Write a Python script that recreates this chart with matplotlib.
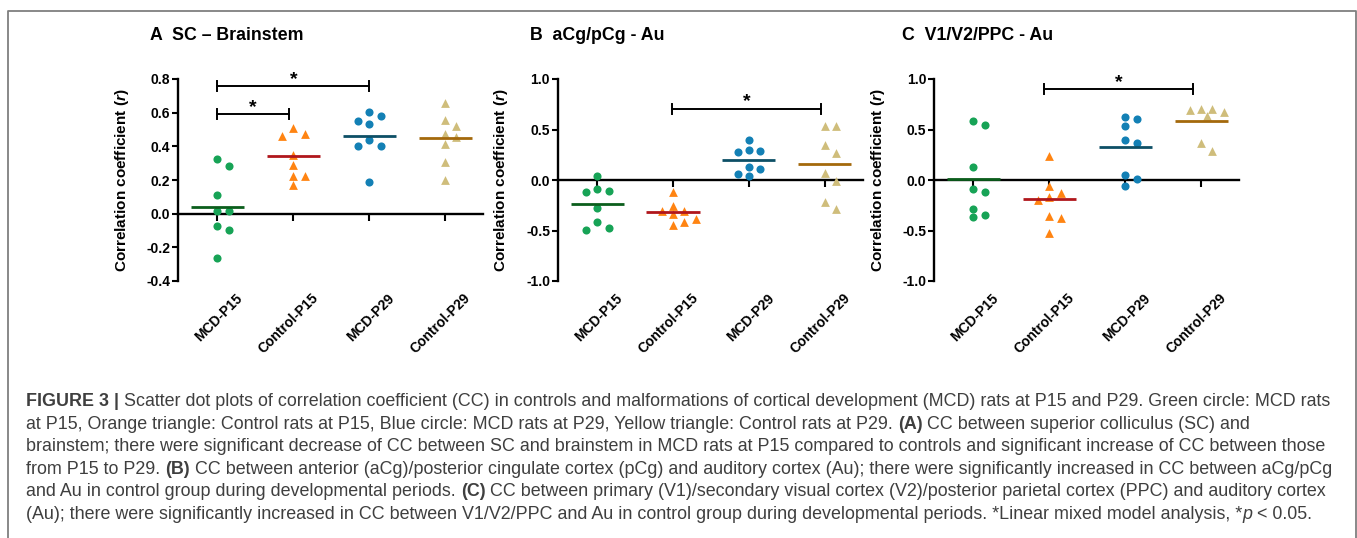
import numpy as np
import matplotlib.pyplot as plt
from matplotlib.lines import Line2D
from matplotlib.transforms import blended_transform_factory

plt.rcParams['font.family'] = ['Liberation Sans', 'DejaVu Sans']
plt.rcParams['mathtext.fontset'] = 'custom'
plt.rcParams['mathtext.it'] = 'Liberation Sans:italic:bold'
plt.rcParams['mathtext.rm'] = 'Liberation Sans:bold'

groups = ["MCD-P15", "Control-P15", "MCD-P29", "Control-P29"]

# A  SC - Brainstem
sc_mcd15 = [0.327, 0.282, 0.109, 0.014, 0.016, -0.075, -0.099, -0.262]
sc_ctl15 = [0.506, 0.460, 0.476, 0.347, 0.292, 0.224, 0.224, 0.169]
sc_mcd29 = [0.581, 0.603, 0.535, 0.553, 0.403, 0.403, 0.436, 0.188]
sc_ctl29 = [0.658, 0.555, 0.520, 0.476, 0.413, 0.456, 0.307, 0.198]
sc_means = [0.040, 0.343, 0.464, 0.452]
sc_brackets = [(0, 0.94, 0.591), (0, 2, 0.758)]

# B  aCg/pCg - Au
cg_mcd15 = [0.035, -0.088, -0.114, -0.104, -0.273, -0.419, -0.494, -0.474]
cg_ctl15 = [-0.114, -0.253, -0.339, -0.306, -0.385, -0.306, -0.412, -0.445]
cg_mcd29 = [0.392, 0.283, 0.276, 0.299, 0.107, 0.131, 0.041, 0.061]
cg_ctl29 = [0.530, 0.530, 0.349, 0.266, 0.068, -0.008, -0.213, -0.289]
cg_means = [-0.240, -0.316, 0.200, 0.157]
cg_brackets = [(0.99, 2.95, 0.706)]

# C  V1/V2/PPC - Au
vis_mcd15 = [0.580, 0.540, 0.127, -0.088, -0.114, -0.283, -0.369, -0.349]
vis_ctl15 = [0.233, -0.055, -0.131, -0.197, -0.164, -0.352, -0.379, -0.521]
vis_mcd29 = [0.623, 0.607, 0.531, 0.395, 0.365, 0.048, 0.005, -0.055]
vis_ctl29 = [0.669, 0.702, 0.702, 0.696, 0.630, 0.365, 0.283]
vis_means = [0.008, -0.187, 0.322, 0.580]
vis_brackets = [(0.93, 2.90, 0.900)]

W, H = 1357, 538
fig = plt.figure(figsize=(W / 100, H / 100), dpi=100)

pt_colors = ['#17a356', '#ff8412', '#1380b5', '#cfbd7b']
line_colors = ['#0b5e1c', '#b0161c', '#0d4f66', '#a4690c']
markers = ['o', '^', 'o', '^']


def swarm(ax, xc, vals, step=0.15, gap=8.5):
    # spread overlapping points sideways, like a dot plot
    placed = []
    out = np.zeros(len(vals))
    for i in np.argsort(-np.asarray(vals), kind='stable'):
        for k in [0, 1, -1, 0.5, -0.5, 2, -2, 3, -3]:
            px, py = ax.transData.transform((xc + k * step, vals[i]))
            if all(np.hypot(px - qx, py - qy) >= gap for qx, qy in placed):
                break
        placed.append((px, py))
        out[i] = xc + k * step
    return out


def panel(left_px, title, title_x, series, means, brackets, ylim, yticks, cap):
    ax = fig.add_axes([left_px / W, 1 - 281 / H, 305 / W, 202 / H])
    ax.set_xlim(-0.52, 3.5)
    ax.set_ylim(*ylim)
    for s in ['top', 'right']:
        ax.spines[s].set_visible(False)
    ax.spines['bottom'].set_position(('data', 0))
    for s in ['left', 'bottom']:
        ax.spines[s].set_linewidth(1.7)
    ax.set_yticks(yticks)
    ax.set_yticklabels([f'{v:.1f}' for v in yticks], fontsize=10, fontweight='bold')
    ax.set_xticks(range(len(groups)))
    ax.tick_params(axis='x', length=5, width=1.5, labelbottom=False)
    ax.tick_params(axis='y', length=4.5, width=1.5, pad=1)

    for i, vals in enumerate(series):
        xs = swarm(ax, i, vals)
        ax.scatter(xs, vals, s=34 if markers[i] == 'o' else 40, marker=markers[i],
                   color=pt_colors[i], linewidths=0, zorder=3, clip_on=False)
        ax.plot([i - 0.35, i + 0.35], [means[i], means[i]], color=line_colors[i],
                lw=2.0, zorder=4, solid_capstyle='butt')

    tr = blended_transform_factory(ax.transData, ax.transAxes)
    for i, g in enumerate(groups):
        ax.text(i + 0.24, -0.05, g, transform=tr, rotation=45, ha='right', va='top',
                rotation_mode='anchor', fontsize=10, fontweight='bold')

    for x1, x2, y in brackets:
        ax.plot([x1, x2], [y, y], color='black', lw=1.4, clip_on=False)
        for xe in (x1, x2):
            ax.plot([xe, xe], [y - cap, y + cap], color='black', lw=1.4, clip_on=False)
        ax.annotate('*', ((x1 + x2) / 2, y), xytext=(0, 5), textcoords='offset points',
                    ha='center', va='center', fontsize=14, fontweight='bold',
                    annotation_clip=False)

    ax.set_ylabel('Correlation coefficient ($r$)', fontsize=11, fontweight='bold')
    ax.yaxis.set_label_coords(-0.155, 0.5)
    fig.text(title_x / W, 1 - 35 / H, title, fontsize=12.8, fontweight='bold',
             ha='left', va='center')
    return ax


panel(178, 'A  SC \u2013 Brainstem', 150, [sc_mcd15, sc_ctl15, sc_mcd29, sc_ctl29],
      sc_means, sc_brackets, (-0.4, 0.8), np.arange(-0.4, 0.81, 0.2), 0.03)
panel(557.7, 'B  aCg/pCg - Au', 530, [cg_mcd15, cg_ctl15, cg_mcd29, cg_ctl29],
      cg_means, cg_brackets, (-1.0, 1.0), np.arange(-1.0, 1.01, 0.5), 0.05)
panel(934, 'C  V1/V2/PPC - Au', 902, [vis_mcd15, vis_ctl15, vis_mcd29, vis_ctl29],
      vis_means, vis_brackets, (-1.0, 1.0), np.arange(-1.0, 1.01, 0.5), 0.05)

# frame around the figure
fig.add_artist(Line2D([8 / W, 8 / W, 1355.5 / W, 1355.5 / W], [0, 1 - 11 / H, 1 - 11 / H, 0],
                      transform=fig.transFigure, color='#7f7f7f', lw=1.3))

# caption, segments: (text, weight, style, space before)
cap_lines = [
    [("FIGURE 3", "bold", "normal", False), ("|", "bold", "normal", True),
     ("Scatter dot plots of correlation coefficient (CC) in controls and malformations of cortical "
      "development (MCD) rats at P15 and P29. Green circle: MCD rats", "normal", "normal", True)],
    [("at P15, Orange triangle: Control rats at P15, Blue circle: MCD rats at P29, Yellow triangle: "
      "Control rats at P29.", "normal", "normal", False), ("(A)", "bold", "normal", True),
     ("CC between superior colliculus (SC) and", "normal", "normal", True)],
    [("brainstem; there were significant decrease of CC between SC and brainstem in MCD rats at P15 "
      "compared to controls and significant increase of CC between those", "normal", "normal", False)],
    [("from P15 to P29.", "normal", "normal", False), ("(B)", "bold", "normal", True),
     ("CC between anterior (aCg)/posterior cingulate cortex (pCg) and auditory cortex (Au); there "
      "were significantly increased in CC between aCg/pCg", "normal", "normal", True)],
    [("and Au in control group during developmental periods.", "normal", "normal", False),
     ("(C)", "bold", "normal", True),
     ("CC between primary (V1)/secondary visual cortex (V2)/posterior parietal cortex (PPC) and "
      "auditory cortex", "normal", "normal", True)],
    [("(Au); there were significantly increased in CC between V1/V2/PPC and Au in control group "
      "during developmental periods. *Linear mixed model analysis, *", "normal", "normal", False),
     ("p", "normal", "italic", False), ("< 0.05.", "normal", "normal", True)],
]
cap_col = '#3f3f3f'
rend = fig.canvas.get_renderer()


def width_of(s, size, weight='normal', style='normal'):
    t = fig.text(0, 0, s, fontsize=size, fontweight=weight, fontstyle=style)
    w = t.get_window_extent(renderer=rend).width
    t.remove()
    return w


def draw_line(segs, x0, y, size, draw=True):
    sp = width_of('n n', size) - width_of('nn', size)
    x = x0
    for s, wgt, sty, gap in segs:
        if gap:
            x += sp
        if draw:
            fig.text(x / W, 1 - y / H, s, fontsize=size, fontweight=wgt, fontstyle=sty,
                     color=cap_col, va='baseline')
        x += width_of(s, size, wgt, sty)
    return x


x_start = 26
w10 = draw_line(cap_lines[0], x_start, 0, 10, draw=False) - x_start
cap_size = 10 * (1335 - x_start) / w10
for k, segs in enumerate(cap_lines):
    draw_line(segs, x_start, 406 + 22.6 * k, cap_size)

fig.savefig('out.png', dpi=100)
